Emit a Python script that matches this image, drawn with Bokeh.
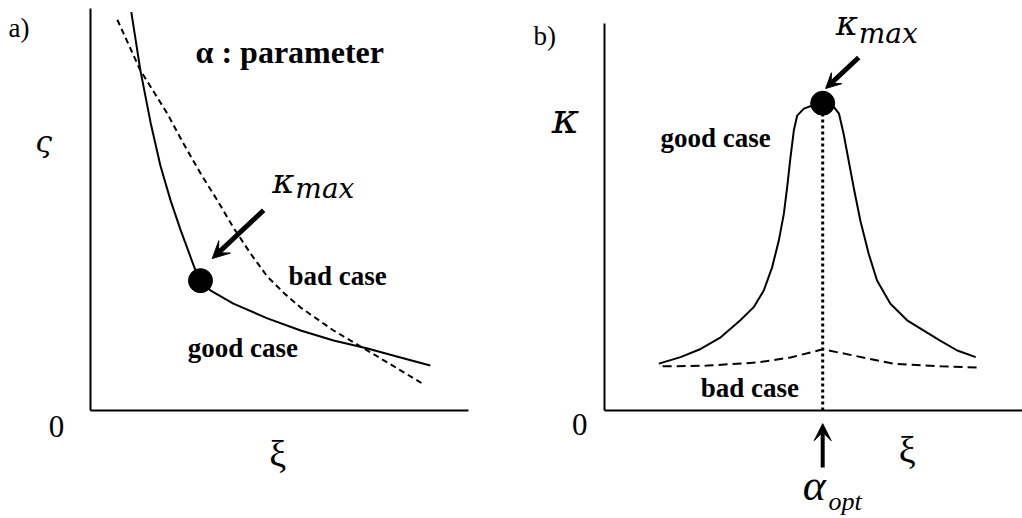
from bokeh.plotting import figure
from bokeh.models import Label, Arrow, VeeHead, Range1d
from bokeh.layouts import row
from bokeh.embed import file_html
from bokeh.resources import INLINE

# ---- panel a: zeta against xi, the parameter alpha runs along each curve ----
good_a_xi = [1.08, 1.32, 1.59, 1.85, 2.12, 2.38, 2.65, 2.78, 2.91, 3.17, 3.78, 4.68,
             5.56, 6.43, 7.33, 8.20, 8.99]
good_a_zeta = [9.91, 8.46, 7.16, 6.09, 5.22, 4.50, 3.81, 3.48, 3.23, 2.99, 2.66, 2.29,
               1.99, 1.74, 1.54, 1.32, 1.12]
bad_a_xi = [0.71, 1.32, 2.03, 2.46, 2.91, 3.36, 3.78, 4.23, 4.68, 5.13, 5.56, 6.43,
            7.33, 8.20, 8.78]
bad_a_zeta = [9.72, 8.46, 7.39, 6.64, 5.90, 5.22, 4.55, 3.91, 3.33, 2.91, 2.56, 1.99,
              1.49, 1.00, 0.67]
kmax_a_xi, kmax_a_zeta = 2.91, 3.23

# ---- panel b: kappa against xi ----
good_b_xi = [1.30, 1.82, 2.30, 2.78, 3.25, 3.57, 3.81, 4.01, 4.17, 4.29, 4.37,
             4.45, 4.53, 4.61, 4.77, 4.97, 5.22, 5.49, 5.61, 5.72, 5.84, 5.96,
             6.12, 6.32, 6.52, 6.84, 7.24, 8.02, 8.44, 8.88]
good_b_kappa = [1.21, 1.38, 1.59, 1.89, 2.33, 2.67, 3.10, 3.70, 4.39, 5.08, 5.77,
                6.55, 7.24, 7.62, 7.80, 7.88, 7.94, 7.84, 7.67, 7.15, 6.46, 5.77,
                4.91, 4.05, 3.36, 2.76, 2.33, 1.81, 1.55, 1.38]
bad_b_xi = [1.39, 2.46, 3.66, 4.45, 5.22, 5.96, 6.91, 8.04, 9.00]
bad_b_kappa = [1.14, 1.16, 1.24, 1.37, 1.58, 1.42, 1.21, 1.14, 1.11]
alpha_opt, kappa_max = 5.22, 7.94

AXIS_END = 10
SERIF = "Liberation Serif"
MATH = "DejaVu Serif"


def make_panel(x_range, y_range):
    p = figure(width=511, height=518, x_range=Range1d(*x_range), y_range=Range1d(*y_range),
               x_axis_type=None, y_axis_type=None,
               output_backend="svg", toolbar_location=None, min_border=0)
    p.title.visible = False
    p.grid.visible = False
    p.outline_line_color = None
    p.background_fill_color = "white"
    p.border_fill_color = "white"
    # the two coordinate axes start at the origin
    p.line([0, AXIS_END], [0, 0], line_color="black", line_width=2)
    p.line([0, 0], [0, AXIS_END], line_color="black", line_width=2)
    return p


def label(p, x, y, text, size, font=SERIF, style="normal", align="left"):
    p.add_layout(Label(x=x, y=y, text=text, text_font=font, text_font_size=size,
                       text_font_style=style, text_align=align, text_baseline="middle",
                       text_color="black"))


# ---------------- panel a ----------------
pa = make_panel((-2.381, 11.138), (-2.687, 10.199))
pa.line(good_a_xi, good_a_zeta, line_color="black", line_width=2)
pa.line(bad_a_xi, bad_a_zeta, line_color="black", line_width=2, line_dash="6 4")
pa.scatter([kmax_a_xi], [kmax_a_zeta], size=24, color="black")
pa.add_layout(Arrow(end=VeeHead(size=17, fill_color="black", line_color="black"),
                    x_start=4.58, y_start=4.98, x_end=3.22, y_end=3.78,
                    line_color="black", line_width=5))

label(pa, -2.17, 9.51, "a)", "27px")
label(pa, -1.24, 6.69, "ς", "30px", font=MATH, style="italic", align="center")
label(pa, 2.78, 8.92, "α : parameter", "32px", style="bold")
label(pa, 4.81, 5.72, "κ", "34px", font=MATH, style="italic")
label(pa, 5.42, 5.51, "max", "28px", font=MATH, style="italic")
label(pa, 5.24, 3.34, "bad case", "27px", style="bold")
label(pa, 2.57, 1.55, "good case", "27px", style="bold")
label(pa, -0.90, -0.39, "0", "31px", align="center")
label(pa, 4.95, -1.08, "ξ", "38px", align="center")

# ---------------- panel b ----------------
pb = make_panel((-2.225, 10.0), (-2.791, 10.594))
pb.line(good_b_xi, good_b_kappa, line_color="black", line_width=2)
pb.line(bad_b_xi, bad_b_kappa, line_color="black", line_width=2, line_dash="9 5")
pb.line([alpha_opt, alpha_opt], [0, kappa_max], line_color="black", line_width=3, line_dash="3 3")
pb.scatter([alpha_opt], [kappa_max], size=24, color="black")
pb.add_layout(Arrow(end=VeeHead(size=15, fill_color="black", line_color="black"),
                    x_start=6.08, y_start=9.12, x_end=5.29, y_end=8.32,
                    line_color="black", line_width=5))
pb.add_layout(Arrow(end=VeeHead(size=17, fill_color="black", line_color="black"),
                    x_start=alpha_opt, y_start=-1.47, x_end=alpha_opt, y_end=-0.34,
                    line_color="black", line_width=4))

label(pb, -1.70, 9.67, "b)", "27px")
label(pb, -0.93, 7.55, "κ", "42px", font=MATH, style="italic", align="center")
label(pb, 5.53, 10.0, "κ", "34px", font=MATH, style="italic")
label(pb, 6.08, 9.73, "max", "28px", font=MATH, style="italic")
label(pb, 1.34, 7.03, "good case", "27px", style="bold")
label(pb, 2.30, 0.57, "bad case", "27px", style="bold")
label(pb, -0.59, -0.37, "0", "31px", align="center")
label(pb, 7.24, -1.03, "ξ", "38px", align="center")
label(pb, 4.74, -1.94, "α", "44px", style="italic")
label(pb, 5.36, -2.36, "opt", "26px", style="italic")

layout = row(pa, pb)
open("out.html", "w").write(file_html(layout, INLINE))
